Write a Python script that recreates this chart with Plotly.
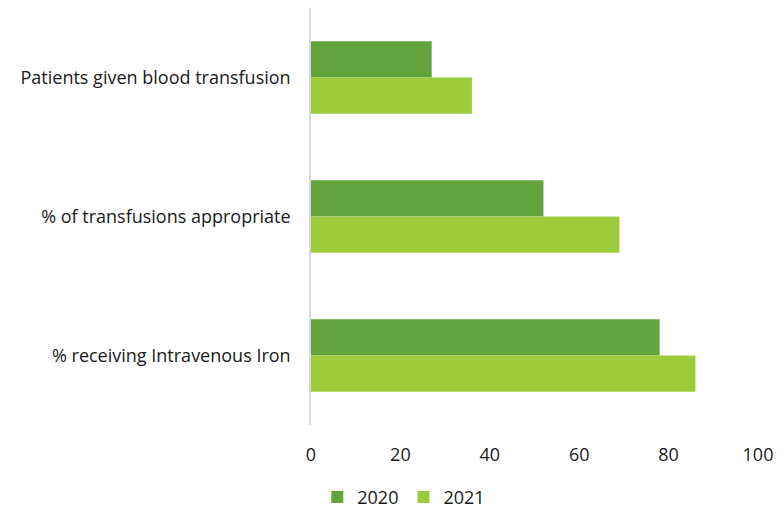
import plotly.graph_objects as go

categories = [
    "Patients given blood transfusion",
    "% of transfusions appropriate",
    "% receiving Intravenous Iron",
]
values_2020 = [27, 52, 78]
values_2021 = [36, 69, 86]
x_ticks = [0, 20, 40, 60, 80, 100]

fig = go.Figure()
fig.add_trace(go.Bar(
    y=categories, x=values_2020, name="2020", orientation="h",
    marker=dict(color="#64a43c", line=dict(width=0)),
))
fig.add_trace(go.Bar(
    y=categories, x=values_2021, name="2021", orientation="h",
    marker=dict(color="#9ccb3b", line=dict(width=0)),
))

fig.update_layout(
    width=784, height=510,
    margin=dict(l=311, r=26, t=8, b=85, autoexpand=False),
    paper_bgcolor="white", plot_bgcolor="white",
    barmode="group", bargap=0.48, bargroupgap=0,
    font=dict(family="Open Sans, sans-serif", size=18, color="#1a1a1a"),
    showlegend=True,
    legend=dict(
        orientation="h", xref="container", yref="container",
        x=0.515, xanchor="center", y=0.025, yanchor="middle",
        font=dict(size=18), traceorder="normal", itemwidth=30,
    ),
    xaxis=dict(
        range=[0, 100], tickvals=x_ticks, showgrid=False, zeroline=False,
        showline=False, ticks="", ticklabelstandoff=17,
    ),
    yaxis=dict(
        autorange="reversed", showgrid=False, zeroline=False,
        showline=True, linecolor="#d9d9d9", linewidth=1.5,
        ticks="", ticklabelstandoff=15,
    ),
)

fig.write_html("out.html")
